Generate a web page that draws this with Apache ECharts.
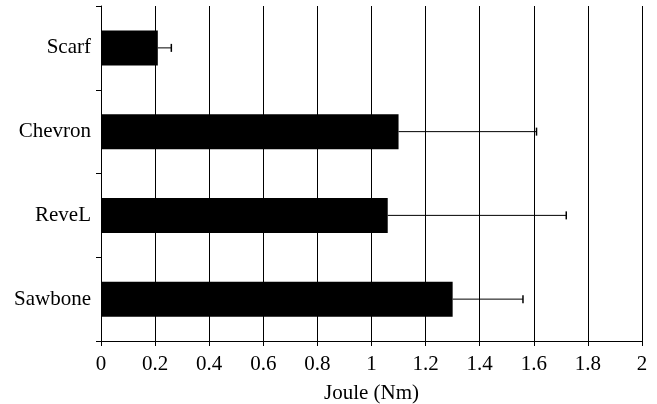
<!DOCTYPE html>
<html>
<head>
<meta charset="utf-8">
<script src="https://cdn.jsdelivr.net/npm/echarts@6/dist/echarts.min.js"></script>
<style>html,body{margin:0;padding:0;background:#fff}#c{width:657px;height:404px}</style>
</head>
<body>
<div id="c"></div>
<script>
var categories = ['Scarf', 'Chevron', 'ReveL', 'Sawbone'];
var values = [0.21, 1.10, 1.06, 1.30];
var errorsPlus = [0.05, 0.51, 0.66, 0.26];
var xTicks = ['0', '0.2', '0.4', '0.6', '0.8', '1', '1.2', '1.4', '1.6', '1.8', '2'];

var chart = echarts.init(document.getElementById('c'), null, {renderer: 'canvas'});
var font = 'Liberation Serif';
var errData = values.map(function (v, i) { return [i, v, v + errorsPlus[i]]; });

chart.setOption({
  animation: false,
  backgroundColor: '#fff',
  grid: {left: 101, right: 15, top: 6, bottom: 63, containLabel: false, outerBoundsMode: 'none'},
  xAxis: {
    type: 'value', min: 0, max: 2, interval: 0.2,
    name: 'Joule (Nm)', nameLocation: 'middle', nameGap: 42,
    nameTextStyle: {fontFamily: font, fontSize: 21, color: '#000'},
    axisLine: {show: true, lineStyle: {color: '#000', width: 1}},
    axisTick: {show: true, length: 5, lineStyle: {color: '#000'}},
    axisLabel: {fontFamily: font, fontSize: 21, color: '#000', margin: 13,
      formatter: function (v) { return xTicks[Math.round(v / 0.2)]; }},
    splitLine: {show: true, lineStyle: {color: '#000', width: 1}}
  },
  yAxis: {
    type: 'category', data: categories, inverse: true,
    axisLine: {show: true, lineStyle: {color: '#000', width: 1}},
    axisTick: {show: true, length: 5, lineStyle: {color: '#000'}},
    axisLabel: {fontFamily: font, fontSize: 21, color: '#000', margin: 10},
    splitLine: {show: false}
  },
  series: [
    {type: 'bar', data: values, barWidth: 35, itemStyle: {color: '#000'}, z: 2},
    {
      type: 'custom', data: errData, z: 3,
      encode: {x: [1, 2], y: 0},
      renderItem: function (params, api) {
        var c = api.value(0);
        var p0 = api.coord([api.value(1), c]);
        var p1 = api.coord([api.value(2), c]);
        var h = 4;
        return {
          type: 'group',
          children: [
            {type: 'line', shape: {x1: p0[0], y1: p0[1], x2: p1[0], y2: p1[1]}, style: {stroke: '#000', lineWidth: 1}},
            {type: 'line', shape: {x1: p1[0], y1: p1[1] - h, x2: p1[0], y2: p1[1] + h}, style: {stroke: '#000', lineWidth: 1.5}}
          ]
        };
      }
    }
  ]
});
</script>
</body>
</html>
